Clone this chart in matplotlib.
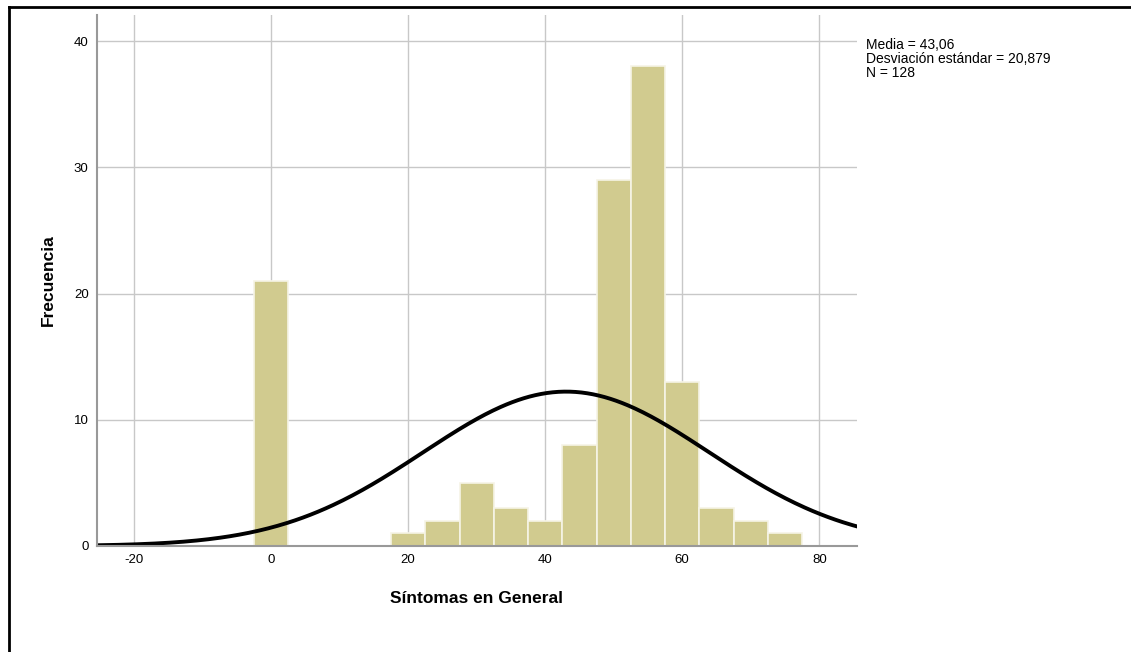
import numpy as np
import matplotlib
matplotlib.use('Agg')
import matplotlib.pyplot as plt
from matplotlib.lines import Line2D

plt.rcParams['font.family'] = ['Liberation Sans', 'DejaVu Sans']
plt.rcParams['axes.unicode_minus'] = False

# Data (bin width 5)
bin_centers = [0, 20, 25, 30, 35, 40, 45, 50, 55, 60, 65, 70, 75]
counts = [21, 1, 2, 5, 3, 2, 8, 29, 38, 13, 3, 2, 1]
bin_width = 5
media = 43.06
desviacion = 20.879
n_total = 128
x_ticks = [-20, 0, 20, 40, 60, 80]
y_ticks = [0, 10, 20, 30, 40]

W, H = 1131, 652
fig = plt.figure(figsize=(W / 100, H / 100), dpi=100)
ax = fig.add_axes([97 / W, 1 - 546 / H, (857 - 97) / W, (546 - 15) / H])

# Histogram bars
ax.bar(bin_centers, counts, width=bin_width, color='#d1cb8f',
       edgecolor='#f6f4e6', linewidth=1.2, zorder=3)

# Normal curve
xs = np.linspace(-26, 86, 400)
ys = n_total * bin_width / (desviacion * np.sqrt(2 * np.pi)) * \
    np.exp(-0.5 * ((xs - media) / desviacion) ** 2)
ax.plot(xs, ys, color='black', linewidth=2.8, zorder=4)

ax.set_xlim(-25.4, 85.5)
ax.set_ylim(0, 42.06)
ax.set_xticks(x_ticks)
ax.set_yticks(y_ticks)
ax.tick_params(length=0, labelsize=9.5, pad=6)
ax.grid(True, color='#c8c8c8', linewidth=1, zorder=0)
for s in ['top', 'right']:
    ax.spines[s].set_visible(False)
for s in ['left', 'bottom']:
    ax.spines[s].set_color('#999999')
    ax.spines[s].set_linewidth(1.5)
    ax.spines[s].set_zorder(5)

ax.set_xlabel('Síntomas en General', fontsize=12.5, fontweight='bold', labelpad=18)
ax.set_ylabel('Frecuencia', fontsize=12.5, fontweight='bold', labelpad=13)

fig.text(866 / W, 1 - 38 / H,
         'Media = 43,06\nDesviación estándar = 20,879\nN = 128',
         fontsize=10, va='top', ha='left', linespacing=1.0)

# Outer frame (left and top visible in the reference)
fig.add_artist(Line2D([9 / W, 9 / W], [0, 1 - 7 / H], color='black',
                      linewidth=2, transform=fig.transFigure))
fig.add_artist(Line2D([9 / W, 1], [1 - 7 / H, 1 - 7 / H], color='black',
                      linewidth=2, transform=fig.transFigure))

fig.savefig('out.png', dpi=100)
